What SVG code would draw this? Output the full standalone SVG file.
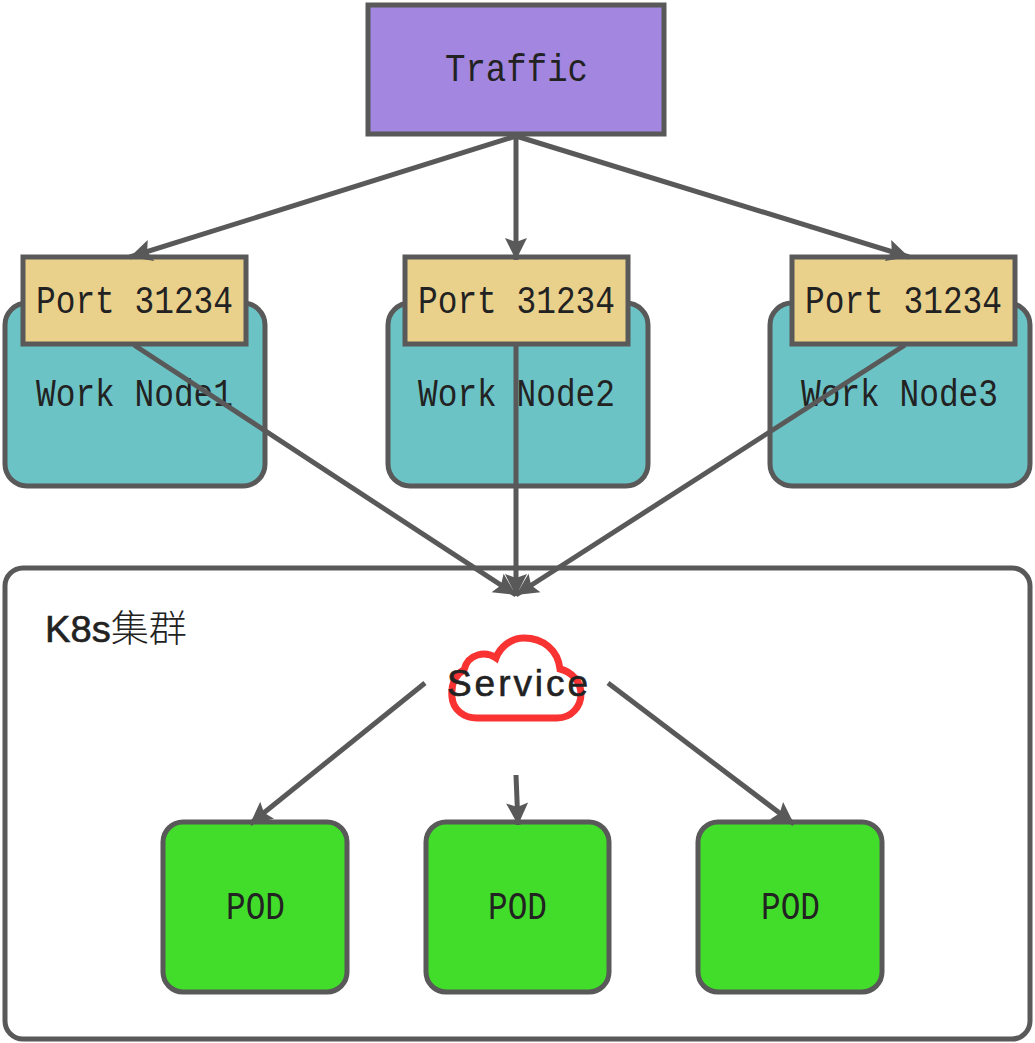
<svg xmlns="http://www.w3.org/2000/svg" width="1035" height="1043" viewBox="0 0 1035 1043">
<style>
.s{stroke:#595959;stroke-width:5}
.t{font-family:"Liberation Mono","DejaVu Sans Mono",monospace;font-size:39px;fill:#222}
.u{font-family:"Liberation Sans",Arial,sans-serif;font-size:37px;fill:#222;stroke:#222;stroke-width:.6}
.c{font-family:"Noto Sans CJK SC",sans-serif;font-weight:300;stroke-width:0}
.l{fill:none;stroke:#595959;stroke-width:5}
</style>
<defs><marker id="a" markerUnits="userSpaceOnUse" markerWidth="28" markerHeight="28" refX="24" refY="14" orient="auto"><path d="M2 3L24 14L2 25L6 14Z" fill="#595959"/></marker></defs>
<rect width="1035" height="1043" fill="#fff"/>
<g id="cluster"><rect class="s" x="5" y="568" width="1025" height="471" rx="18" fill="#fff"/><text class="u" x="45" y="642" textLength="142" lengthAdjust="spacingAndGlyphs">K8s<tspan class="c">集群</tspan></text></g>
<g id="node1"><rect class="s" x="5" y="303" width="260" height="183" rx="22" fill="#6cc3c5"/><text class="t" x="36" y="406" textLength="197" lengthAdjust="spacingAndGlyphs">Work Node1</text></g>
<g id="node2"><rect class="s" x="388" y="303" width="260" height="183" rx="22" fill="#6cc3c5"/><text class="t" x="418" y="406" textLength="197" lengthAdjust="spacingAndGlyphs">Work Node2</text></g>
<g id="node3"><rect class="s" x="770" y="303" width="260" height="183" rx="22" fill="#6cc3c5"/><text class="t" x="801" y="406" textLength="197" lengthAdjust="spacingAndGlyphs">Work Node3</text></g>
<g id="traffic"><rect class="s" x="368" y="5" width="296" height="129" fill="#a286e0"/><text class="t" x="445" y="81" textLength="143" lengthAdjust="spacingAndGlyphs">Traffic</text></g>
<g id="port1"><rect class="s" x="23" y="257" width="223" height="87" fill="#e9d18c"/><text class="t" x="36" y="313" textLength="197" lengthAdjust="spacingAndGlyphs">Port 31234</text></g>
<g id="port2"><rect class="s" x="405" y="257" width="223" height="87" fill="#e9d18c"/><text class="t" x="418" y="313" textLength="197" lengthAdjust="spacingAndGlyphs">Port 31234</text></g>
<g id="port3"><rect class="s" x="792" y="257" width="223" height="87" fill="#e9d18c"/><text class="t" x="805" y="313" textLength="197" lengthAdjust="spacingAndGlyphs">Port 31234</text></g>
<g id="service"><path d="M477 718H557C572 718 581 706 581 694C581 682 572 672 560 669C558 650 543 638 524 638C511 638 500 647 496 658C486 651 468 653 464 670C454 675 451 686 452 697C453 710 464 718 477 718Z" fill="#fff" stroke="#f93232" stroke-width="7"/><text class="u" x="447" y="696" textLength="141" lengthAdjust="spacing">Service</text></g>
<g id="pod1"><rect class="s" x="163" y="822" width="184" height="170" rx="20" fill="#41dd2a"/><text class="t" x="226" y="919" textLength="59" lengthAdjust="spacingAndGlyphs">POD</text></g>
<g id="pod2"><rect class="s" x="426" y="822" width="183" height="170" rx="20" fill="#41dd2a"/><text class="t" x="488" y="919" textLength="59" lengthAdjust="spacingAndGlyphs">POD</text></g>
<g id="pod3"><rect class="s" x="698" y="822" width="184" height="170" rx="20" fill="#41dd2a"/><text class="t" x="761" y="919" textLength="59" lengthAdjust="spacingAndGlyphs">POD</text></g>
<g id="connectors">
<path class="l" marker-end="url(#a)" d="M516 136L130 257"/>
<path class="l" marker-end="url(#a)" d="M516 136V260"/>
<path class="l" marker-end="url(#a)" d="M516 136L909 257"/>
<path class="l" marker-end="url(#a)" d="M134 345L516 595"/>
<path class="l" marker-end="url(#a)" d="M516 345V596"/>
<path class="l" marker-end="url(#a)" d="M905 345L516 595"/>
<path class="l" marker-end="url(#a)" d="M425 683L250 824"/>
<path class="l" marker-end="url(#a)" d="M516 775L518 825"/>
<path class="l" marker-end="url(#a)" d="M608 683L794 824"/>
</g>
</svg>
